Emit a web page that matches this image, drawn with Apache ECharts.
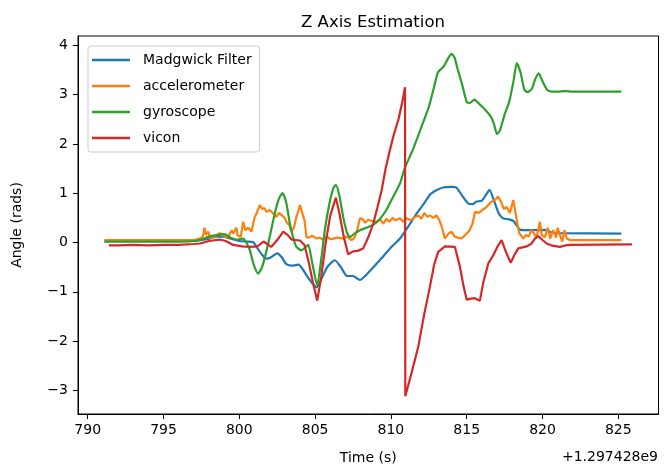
<!DOCTYPE html>
<html>
<head>
<meta charset="utf-8">
<script src="https://cdn.jsdelivr.net/npm/echarts@6/dist/echarts.min.js"></script>
<style>
  html, body { margin: 0; padding: 0; background: #fff; }
  #chart { width: 671px; height: 474px; }
</style>
</head>
<body>
<div id="chart"></div>
<script>
// Time is stored as seconds after the axis offset (+1.297428e9).
const TIME_OFFSET_LABEL = '+1.297428e9';

const xTicks = [790, 795, 800, 805, 810, 815, 820, 825];
const yTicks = [-3, -2, -1, 0, 1, 2, 3, 4];

// Madgwick Filter
const madgwickT = [791.1, 792, 793, 794, 795, 796, 797, 797.5, 798, 798.5, 799, 799.5, 800, 800.5, 800.9,
  801.2, 801.5, 801.8, 802.1, 802.5, 802.8, 803.1, 803.5, 803.9, 804.2, 804.5, 804.8, 805.1, 805.4, 805.8,
  806.3, 806.7, 807.1, 807.5, 807.95, 808.3, 808.7, 809.05, 809.5, 810, 810.6, 811.2, 811.7, 812.2, 812.6,
  813.0, 813.5, 814.0, 814.3, 814.7, 815.1, 815.4, 815.65, 816.0, 816.3, 816.5, 816.8, 817.1, 817.4, 817.8,
  818.1, 818.4, 818.6, 819.5, 820.3, 820.6, 821.0, 825.2];
const madgwickV = [0.02, 0.02, 0.02, 0.02, 0.02, 0.02, 0.03, 0.05, 0.08, 0.12, 0.12, 0.07, 0.03, 0.02, 0.01,
  -0.12, -0.25, -0.33, -0.30, -0.22, -0.30, -0.44, -0.47, -0.45, -0.55, -0.70, -0.82, -0.91, -0.75, -0.50,
  -0.36, -0.50, -0.68, -0.68, -0.76, -0.68, -0.55, -0.43, -0.28, -0.10, 0.08, 0.35, 0.59, 0.80, 0.98,
  1.06, 1.12, 1.13, 1.12, 0.95, 0.79, 0.78, 0.83, 0.85, 0.98, 1.07, 0.85, 0.60, 0.49, 0.47,
  0.43, 0.30, 0.25, 0.25, 0.25, 0.20, 0.19, 0.18];

// accelerometer
const accelT = [791.1, 792, 793, 794, 795, 796, 797, 797.4, 797.6, 797.7, 797.8, 797.95, 798.1, 798.4, 798.7,
  798.9, 799.1, 799.3, 799.5, 799.6, 799.8, 799.9, 800.1, 800.25, 800.4, 800.6, 800.8, 801.0, 801.15, 801.35,
  801.5, 801.65, 801.8, 802.0, 802.2, 802.45, 802.6, 802.8, 803.0, 803.1, 803.3, 803.44, 803.6, 803.75, 803.9,
  804.0, 804.15, 804.3, 804.43, 804.6, 804.8, 805.1, 805.3, 805.5, 805.8, 806.0, 806.2, 806.5, 806.85, 807.1,
  807.4, 807.6, 807.8, 807.95, 808.1, 808.3, 808.5, 808.7, 809.05, 809.3, 809.5, 809.7, 809.9, 810.1, 810.3,
  810.6, 810.8, 811.03, 811.3, 811.6, 811.8, 812.0, 812.2, 812.4, 812.57, 812.8, 813.0, 813.2, 813.35, 813.56,
  813.8, 814.0, 814.2, 814.4, 814.66, 814.9, 815.2, 815.4, 815.54, 815.8, 816.0, 816.3, 816.6, 816.8, 817.08,
  817.3, 817.45, 817.63, 817.85, 818.07, 818.25, 818.45, 818.73, 818.9, 819.1, 819.25, 819.4, 819.6, 819.83, 819.95,
  820.16, 820.35, 820.5, 820.7, 820.9, 821.0, 821.15, 821.3, 821.45, 821.6, 821.8, 825.2];
const accelV = [0.05, 0.05, 0.05, 0.05, 0.05, 0.05, 0.05, 0.08, 0.12, 0.30, 0.15, 0.22, 0.08, 0.12, 0.19,
  0.16, 0.10, 0.14, 0.25, 0.18, 0.30, 0.14, 0.12, 0.42, 0.25, 0.30, 0.22, 0.50, 0.60, 0.76,
  0.68, 0.70, 0.62, 0.66, 0.60, 0.52, 0.60, 0.55, 0.50, 0.42, 0.35, 0.22, 0.30, 0.50, 0.65,
  0.76, 0.60, 0.45, 0.11, 0.10, 0.14, 0.08, 0.10, 0.06, 0.12, 0.07, 0.08, 0.10, 0.08, 0.12,
  0.05, 0.10, 0.28, 0.49, 0.48, 0.40, 0.46, 0.44, 0.42, 0.47, 0.38, 0.48, 0.42, 0.50, 0.45,
  0.49, 0.42, 0.49, 0.45, 0.52, 0.55, 0.48, 0.60, 0.52, 0.55, 0.50, 0.55, 0.45, 0.32, 0.08,
  0.18, 0.22, 0.12, 0.10, 0.08, 0.15, 0.25, 0.40, 0.62, 0.60, 0.65, 0.72, 0.82, 0.85, 0.93,
  0.80, 0.68, 0.72, 0.60, 0.86, 0.55, 0.20, 0.08, 0.15, 0.12, 0.25, 0.20, 0.10, 0.42, 0.15,
  0.11, 0.30, 0.08, 0.25, 0.10, 0.30, 0.15, 0.02, 0.25, 0.08, 0.05, 0.05];

// gyroscope
const gyroT = [791.1, 792, 793, 794, 795, 796, 797, 797.5, 798, 798.5, 799, 799.4, 799.8, 800.25, 800.5,
  800.7, 800.95, 801.24, 801.5, 801.8, 802.1, 802.34, 802.6, 802.85, 803.1, 803.33, 803.55, 803.77, 804.1, 804.35,
  804.55, 804.8, 805.14, 805.4, 805.64, 805.95, 806.2, 806.37, 806.6, 806.85, 807.1, 807.3, 807.6, 807.95, 808.4,
  808.83, 809.2, 809.7, 810.1, 810.6, 810.9, 811.47, 811.9, 812.2, 812.5, 812.8, 813.1, 813.5, 813.8, 814.0,
  814.2, 814.4, 814.7, 815.0, 815.2, 815.5, 815.8, 816.2, 816.6, 816.8, 817.0, 817.2, 817.5, 817.8, 818.1,
  818.3, 818.55, 818.8, 819.0, 819.3, 819.5, 819.75, 820.0, 820.3, 820.6, 821.0, 821.5, 822, 825.2];
const gyroV = [0.02, 0.02, 0.02, 0.02, 0.02, 0.02, 0.03, 0.06, 0.12, 0.15, 0.17, 0.10, 0.06, 0.08, -0.02,
  -0.16, -0.45, -0.63, -0.50, -0.16, 0.25, 0.59, 0.88, 1.00, 0.80, 0.39, 0.10, -0.09, -0.16, -0.10,
  -0.05, -0.40, -0.87, -0.35, 0.25, 0.80, 1.10, 1.17, 0.95, 0.52, 0.20, 0.11, 0.18, 0.25, 0.30,
  0.36, 0.45, 0.66, 0.90, 1.20, 1.50, 1.90, 2.25, 2.50, 2.75, 3.10, 3.45, 3.58, 3.75, 3.83,
  3.75, 3.52, 3.20, 2.85, 2.83, 2.90, 2.82, 2.70, 2.55, 2.40, 2.20, 2.28, 2.60, 2.85, 3.30,
  3.64, 3.45, 3.10, 3.05, 3.12, 3.30, 3.43, 3.27, 3.10, 3.06, 3.06, 3.07, 3.06, 3.06];

// vicon
const viconT = [791.4, 792, 793, 794, 795, 796, 797, 797.4, 798, 798.7, 799.1, 799.6, 800.2, 800.7, 801.2,
  801.6, 802.1, 802.5, 802.9, 803.2, 803.45, 804.0, 804.3, 804.55, 804.85, 805.14, 805.4, 805.7, 806.0, 806.37,
  806.6, 806.9, 807.18, 807.5, 807.8, 808.17, 808.5, 808.83, 809.1, 809.39, 809.65, 809.93, 810.2, 810.5, 810.75,
  810.93, 810.95, 811.4, 811.8, 812.2, 812.57, 812.85, 813.12, 813.56, 814.22, 814.55, 814.8, 815.0, 815.3, 815.53,
  815.87, 816.1, 816.42, 816.75, 817.0, 817.3, 817.6, 817.9, 818.15, 818.4, 818.95, 819.28, 819.5, 819.72, 820.0,
  820.27, 820.7, 821.15, 821.5, 821.8, 825.9];
const viconV = [-0.06, -0.06, -0.05, -0.06, -0.05, -0.05, -0.03, -0.02, 0.03, 0.06, 0.03, -0.05, -0.08, -0.09, -0.08,
  0.02, -0.09, 0.05, 0.22, 0.15, 0.06, 0.04, -0.05, -0.36, -0.80, -1.18, -0.70, 0.00, 0.55, 0.91,
  0.60, 0.10, -0.24, -0.18, -0.17, -0.12, 0.10, 0.38, 0.70, 1.06, 1.50, 1.87, 2.20, 2.50, 2.85,
  3.15, -3.12, -2.60, -2.12, -1.45, -0.90, -0.45, -0.19, -0.08, -0.09, -0.49, -0.90, -1.16, -1.14, -1.13,
  -1.18, -0.80, -0.43, -0.26, -0.10, 0.05, -0.20, -0.41, -0.25, -0.12, -0.08, -0.02, 0.08, 0.13, 0.05,
  -0.02, -0.07, -0.09, -0.06, -0.05, -0.04];

const seriesDefs = [
  { name: 'Madgwick Filter', t: madgwickT, v: madgwickV, color: '#1f77b4', smooth: 0.2 },
  { name: 'accelerometer', t: accelT, v: accelV, color: '#ff7f0e', smooth: false },
  { name: 'gyroscope', t: gyroT, v: gyroV, color: '#2ca02c', smooth: 0.2 },
  { name: 'vicon', t: viconT, v: viconV, color: '#d62728', smooth: false }
];

const FONT = '"DejaVu Sans", sans-serif';
const minusFmt = v => String(v).replace('-', '\u2212');

const chart = echarts.init(document.getElementById('chart'), null, { renderer: 'canvas' });

const axisCommon = {
  axisLine: { show: true, onZero: false, lineStyle: { color: '#000', width: 1 } },
  splitLine: { show: false },
  nameTextStyle: { fontFamily: FONT, fontSize: 14, color: '#000' }
};

chart.setOption({
  animation: false,
  backgroundColor: '#fff',
  title: {
    text: 'Z Axis Estimation',
    left: 368, top: 9, textAlign: 'center',
    textStyle: { fontFamily: FONT, fontSize: 16.5, fontWeight: 'normal', color: '#000' }
  },
  grid: {
    left: 78, top: 36, right: 12.5, bottom: 60,
    show: true, borderColor: '#000', borderWidth: 1, backgroundColor: 'transparent'
  },
  legend: {
    orient: 'vertical', left: 88, top: 46,
    padding: [6, 8, 6, 4],
    itemWidth: 38, itemHeight: 2.5, itemGap: 10,
    icon: 'rect',
    backgroundColor: 'rgba(255,255,255,0.8)',
    borderColor: '#cccccc', borderWidth: 1, borderRadius: 3,
    textStyle: { fontFamily: FONT, fontSize: 14, color: '#000', lineHeight: 16, padding: [0, 0, 0, 8] },
    data: seriesDefs.map(s => s.name)
  },
  xAxis: Object.assign({}, axisCommon, {
    type: 'value', min: 789.36, max: 827.65,
    name: 'Time (s)', nameLocation: 'middle', nameGap: 37,
    axisTick: { show: true, inside: false, length: 5, lineStyle: { color: '#000', width: 1 }, customValues: xTicks },
    axisLabel: { fontFamily: FONT, fontSize: 14, color: '#000', margin: 9, customValues: xTicks, formatter: minusFmt }
  }),
  yAxis: Object.assign({}, axisCommon, {
    type: 'value', min: -3.48, max: 4.19,
    name: 'Angle (rads)', nameLocation: 'middle', nameGap: 54, nameRotate: 90,
    axisTick: { show: true, inside: false, length: 5, lineStyle: { color: '#000', width: 1 }, customValues: yTicks },
    axisLabel: { fontFamily: FONT, fontSize: 14, color: '#000', margin: 10, customValues: yTicks, formatter: minusFmt }
  }),
  graphic: [{
    type: 'text', right: 13, top: 450,
    style: { text: TIME_OFFSET_LABEL, fontFamily: FONT, fontSize: 14, fill: '#000' }
  }],
  series: seriesDefs.map(s => ({
    name: s.name,
    type: 'line',
    data: s.t.map((t, i) => [t, s.v[i]]),
    showSymbol: false,
    symbol: 'none',
    smooth: s.smooth,
    color: s.color,
    lineStyle: { color: s.color, width: 2.2 },
    clip: true
  }))
});
</script>
</body>
</html>
